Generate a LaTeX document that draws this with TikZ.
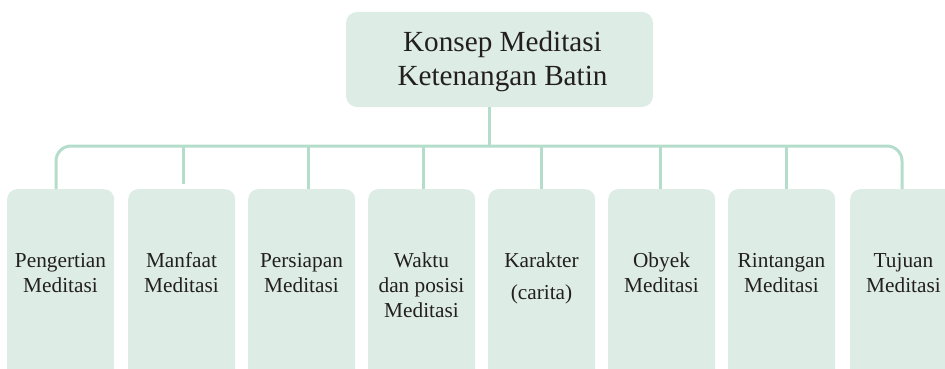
\documentclass[tikz,border=0pt]{standalone}
\usepackage{fontspec}
\setmainfont{Liberation Serif}
\definecolor{boxfill}{RGB}{221,237,230}
\definecolor{linec}{RGB}{181,221,204}
\definecolor{txt}{RGB}{35,31,32}
\begin{document}
\begin{tikzpicture}[x=1pt,y=-1pt,
  rootbox/.style={fill=boxfill,draw=none,rounded corners=11pt,minimum width=307pt,minimum height=95pt,inner sep=0pt},
  leafbox/.style={fill=boxfill,draw=none,rounded corners=10pt,minimum width=107pt,minimum height=200pt,inner sep=0pt,anchor=north west},
  leaftxt/.style={anchor=base,inner sep=0pt,text=txt,font=\fontsize{21.3}{25}\selectfont},
  roottxt/.style={anchor=base,inner sep=0pt,text=txt,font=\fontsize{29.2}{34}\selectfont},
  conn/.style={draw=linec,line width=3pt}]
\useasboundingbox (0,0) rectangle (945,369);
\clip (0,0) rectangle (945,369);
% root
\node[rootbox] (root) at (499.5,59.5) {};
\node[roottxt] (roottext) at (502.5,52) {\parbox[t]{300pt}{\centering Konsep Meditasi\\Ketenangan Batin}};
% leaves
\node[leafbox] (p1) at (7,189) {};
\node[leafbox] (p2) at (128,189) {};
\node[leafbox] (p3) at (248,189) {};
\node[leafbox] (p4) at (368,189) {};
\node[leafbox] (p5) at (488,189) {};
\node[leafbox] (p6) at (608,189) {};
\node[leafbox] (p7) at (728,189) {};
\node[leafbox] (p8) at (850,189) {};
\node[leaftxt] (t1) at (60.5,267) {\parbox[t]{105pt}{\centering Pengertian\\Meditasi}};
\node[leaftxt] (t2) at (181.5,267) {\parbox[t]{105pt}{\centering Manfaat\\Meditasi}};
\node[leaftxt] (t3) at (301.5,267) {\parbox[t]{105pt}{\centering Persiapan\\Meditasi}};
\node[leaftxt] (t4) at (421.5,267) {\parbox[t]{105pt}{\centering Waktu\\dan posisi\\Meditasi}};
\node[leaftxt] (t5) at (541.5,267) {\parbox[t]{105pt}{\centering Karakter\\[7pt](carita)}};
\node[leaftxt] (t6) at (661.5,267) {\parbox[t]{105pt}{\centering Obyek\\Meditasi}};
\node[leaftxt] (t7) at (781.5,267) {\parbox[t]{105pt}{\centering Rintangan\\Meditasi}};
\node[leaftxt] (t8) at (903.5,267) {\parbox[t]{105pt}{\centering Tujuan\\Meditasi}};
% connectors
\coordinate (j) at (489,146);
\coordinate (x1) at (56,0);
\coordinate (x2) at (183,184);
\coordinate (x3) at (308,0);
\coordinate (x4) at (423,0);
\coordinate (x5) at (541,0);
\coordinate (x6) at (660,0);
\coordinate (x7) at (786,0);
\coordinate (x8) at (902,0);
\draw[conn] (j |- root.south) -- (j);
\draw[conn,rounded corners=15pt] (x1 |- p1.north) |- (j) -| (x8 |- p8.north);
\draw[conn] (x2) -- (x2 |- j);
\draw[conn] (x3 |- p3.north) -- (x3 |- j);
\draw[conn] (x4 |- p4.north) -- (x4 |- j);
\draw[conn] (x5 |- p5.north) -- (x5 |- j);
\draw[conn] (x6 |- p6.north) -- (x6 |- j);
\draw[conn] (x7 |- p7.north) -- (x7 |- j);
\end{tikzpicture}
\end{document}
